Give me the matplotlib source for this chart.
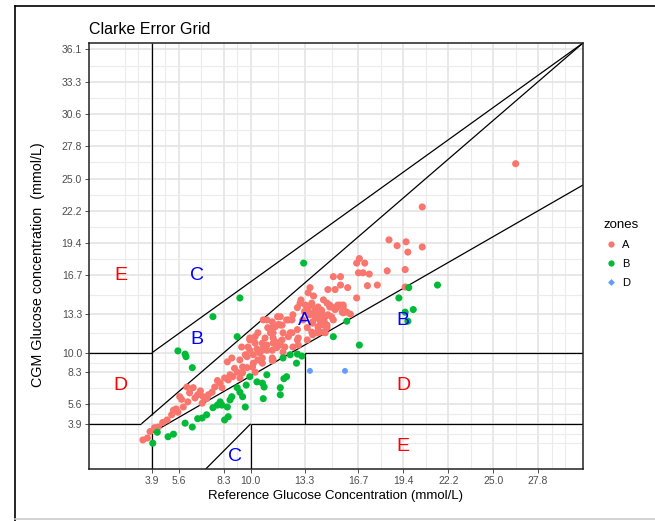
import matplotlib
matplotlib.use("Agg")
import matplotlib.pyplot as plt
from matplotlib.lines import Line2D
from matplotlib.ticker import FixedLocator

plt.rcParams['font.family'] = ['Liberation Sans', 'DejaVu Sans']

# axis breaks (mg/dL) and their mmol/L labels
x_breaks = [70, 100, 150, 180, 240, 300, 350, 400, 450, 500]
y_breaks = [70, 100, 150, 180, 240, 300, 350, 400, 450, 500, 550, 600, 650]
x_labels = ["3.9", "5.6", "8.3", "10.0", "13.3", "16.7", "19.4", "22.2", "25.0", "27.8"]
y_labels = ["3.9", "5.6", "8.3", "10.0", "13.3", "16.7", "19.4", "22.2", "25.0",
            "27.8", "30.6", "33.3", "36.1"]
x_minor = [40, 55, 85, 125, 165, 210, 270, 325, 375, 425, 475, 515, 530]
y_minor = [40, 55, 85, 125, 165, 210, 270, 325, 375, 425, 475, 525, 575, 625]
max_x = 550
max_y = 660

# zone boundary segments (x1, y1, x2, y2) in mg/dL
zone_x1 = [0, 58.33, 70, 70, 70, 0, 70, 240, 240, 130, 180, 180]
zone_y1 = [70, 70, 0, 56, 84, 180, 180, 70, 180, 0, 0, 70]
zone_x2 = [58.33, 550, 70, 550, 70, 70, 550, 240, 550, 180, 180, 550]
zone_y2 = [70, 660, 56, 440, 660, 180, 660, 180, 180, 70, 70, 70]

# zone letters
lab_x = [240, 120, 350, 120, 163, 35, 350, 35, 350]
lab_y = [230, 200, 230, 300, 20, 130, 130, 300, 35]
lab_text = ["A", "B", "B", "C", "C", "D", "D", "E", "E"]
lab_col = ["blue", "blue", "blue", "blue", "blue", "red", "red", "red", "red"]

# reference vs CGM values (mg/dL), by zone
a_ref = [60, 65, 73, 77, 87, 92, 94, 99, 105, 110, 112, 118, 121, 126, 127, 133, 137, 140,
         146, 148, 151, 155, 157, 160, 165, 168, 171, 176, 182, 185, 154, 159, 168, 176,
         183, 188, 193, 194, 198, 205, 209, 213, 216, 222, 226, 202, 204, 109, 116, 101,
         193, 204, 249, 257, 243, 198, 204, 205, 210, 215, 220, 224, 207, 215, 204, 193,
         185, 179, 179, 174, 171, 183, 190, 193, 205, 232, 233, 227, 241, 244, 248, 252,
         255, 259, 246, 252, 257, 263, 249, 255, 261, 265, 243, 248, 238, 268, 274, 280,
         287, 266, 272, 263, 254, 227, 232, 235, 272, 280, 280, 288, 266, 274, 246, 244,
         248, 261, 265, 268, 276, 282, 283, 243, 246, 252, 255, 249, 257, 254, 261, 222,
         226, 213, 213, 204, 207, 199, 194, 216, 232, 233, 205, 188, 179, 185, 170, 177,
         198, 213, 218, 371, 334, 343, 353, 355, 371, 298, 301, 307, 300, 305, 312, 332,
         352, 310, 321, 352, 298, 272, 277, 283, 283, 291, 259, 259, 265, 475,
         68, 82, 97, 103, 124, 131, 143, 162, 187, 196, 211, 236, 240, 250, 262, 270]
a_cgm = [45, 48, 64, 65, 76, 84, 91, 88, 96, 104, 118, 110, 115, 102, 112, 115, 119, 127,
         133, 126, 141, 138, 146, 143, 150, 141, 149, 157, 158, 150, 166, 172, 169, 174,
         177, 169, 164, 192, 184, 195, 188, 197, 181, 205, 211, 211, 168, 127, 126, 112,
         184, 172, 208, 212, 200, 231, 219, 211, 236, 223, 231, 211, 197, 200, 184, 195,
         205, 200, 184, 177, 158, 164, 180, 172, 169, 200, 192, 189, 254, 250, 254, 247,
         251, 243, 239, 234, 231, 236, 226, 220, 223, 219, 219, 212, 231, 254, 247, 254,
         243, 239, 231, 211, 211, 239, 250, 257, 298, 298, 285, 281, 278, 278, 281, 273,
         257, 262, 257, 251, 250, 243, 254, 251, 242, 243, 236, 228, 223, 212, 212, 231,
         231, 236, 223, 228, 220, 219, 231, 211, 216, 203, 203, 211, 203, 195, 189, 189,
         192, 192, 189, 406, 355, 346, 352, 336, 344, 319, 326, 319, 304, 304, 302, 307,
         309, 284, 285, 282, 265, 250, 254, 250, 242, 240, 246, 236, 223, 473,
         58, 72, 93, 108, 121, 109, 137, 156, 186, 203, 224, 262, 244, 268, 228, 236]
b_ref = [99, 107, 108, 115, 165, 232, 231, 237, 272, 220, 217, 213, 213, 193, 195, 194,
         187, 198, 179, 175, 171, 174, 165, 168, 159, 157, 154, 155, 151, 146, 148, 143,
         138, 131, 126, 121, 115, 107, 94, 88, 76, 71, 239, 168, 138, 287, 301, 356, 388,
         345, 352, 361, 355, 224, 216]
b_cgm = [183, 178, 174, 157, 205, 178, 164, 175, 205, 143, 140, 126, 115, 133, 127, 109,
         135, 146, 143, 130, 112, 96, 126, 119, 112, 107, 96, 81, 76, 104, 99, 99,
         95, 84, 79, 78, 65, 71, 54, 50, 57, 40, 319, 265, 236, 229, 192, 281, 285,
         265, 243, 247, 229, 177, 172]
d_ref = [246, 285]
d_cgm = [152, 152]

col_a = "#F8766D"
col_b = "#00BA38"
col_d = "#619CFF"

fig = plt.figure(figsize=(6.55, 5.21), dpi=100)
ax = fig.add_axes([89 / 655, 52 / 521, 494 / 655, 426 / 521])

ax.set_xlim(0, max_x)
ax.set_ylim(0, max_y)
ax.set_xticks(x_breaks)
ax.set_xticklabels(x_labels)
ax.set_yticks(y_breaks)
ax.set_yticklabels(y_labels)
ax.xaxis.set_minor_locator(FixedLocator(x_minor))
ax.yaxis.set_minor_locator(FixedLocator(y_minor))
ax.grid(which='major', color='#E2E2E2', lw=1.1)
ax.grid(which='minor', color='#EBEBEB', lw=0.8)
ax.set_axisbelow(True)
ax.tick_params(which='major', length=3, width=0.6, color='#333333',
               labelcolor='#4D4D4D', labelsize=7.5, pad=2)
ax.tick_params(which='minor', length=0)
for s in ax.spines.values():
    s.set_color('#222222')
    s.set_linewidth(1.1)

for i in range(len(zone_x1)):
    ax.plot([zone_x1[i], zone_x2[i]], [zone_y1[i], zone_y2[i]], color='black', lw=0.9,
            solid_capstyle='butt', zorder=2)

for i in range(len(lab_text)):
    ax.text(lab_x[i], lab_y[i], lab_text[i], color=lab_col[i], fontsize=14,
            ha='center', va='center', zorder=4)

ax.scatter(a_ref, a_cgm, s=26, color=col_a, edgecolors='none', zorder=3)
ax.scatter(b_ref, b_cgm, s=26, color=col_b, edgecolors='none', zorder=3)
ax.scatter(d_ref, d_cgm, s=18, color=col_d, edgecolors='none', zorder=3)

fig.text(89 / 655, 1 - 30 / 521, "Clarke Error Grid", ha='left', va='center', fontsize=11.5)
fig.text(336 / 655, 1 - 496 / 521, "Reference Glucose Concentration (mmol/L)",
         ha='center', va='center', fontsize=9.5)
fig.text(38 / 655, 1 - 265 / 521, "CGM Glucose concentration  (mmol/L)",
         ha='center', va='center', rotation=90, fontsize=10.3)

handles = [Line2D([], [], ls='none', marker='o', ms=4.5, color=col_a, mec='none'),
           Line2D([], [], ls='none', marker='o', ms=4.5, color=col_b, mec='none'),
           Line2D([], [], ls='none', marker='D', ms=3.5, color=col_d, mec='none')]
leg = fig.legend(handles, ["A", "B", "D"], title="zones", loc='upper left',
                 bbox_to_anchor=(594 / 655, 1 - 209 / 521), frameon=False,
                 fontsize=8, title_fontsize=9.5, handletextpad=0.4, labelspacing=0.8,
                 handlelength=1.2)
leg._legend_box.align = "left"

# screenshot frame
fig.add_artist(Line2D([15 / 655, 1], [1 - 5.5 / 521] * 2, transform=fig.transFigure,
                      color='black', lw=1.2))
fig.add_artist(Line2D([15 / 655] * 2, [0, 1 - 5.5 / 521], transform=fig.transFigure,
                      color='black', lw=1.2))
fig.add_artist(Line2D([15 / 655, 1], [2 / 521] * 2, transform=fig.transFigure,
                      color='#CCCCCC', lw=1.2))

fig.savefig("out.png", dpi=100)
